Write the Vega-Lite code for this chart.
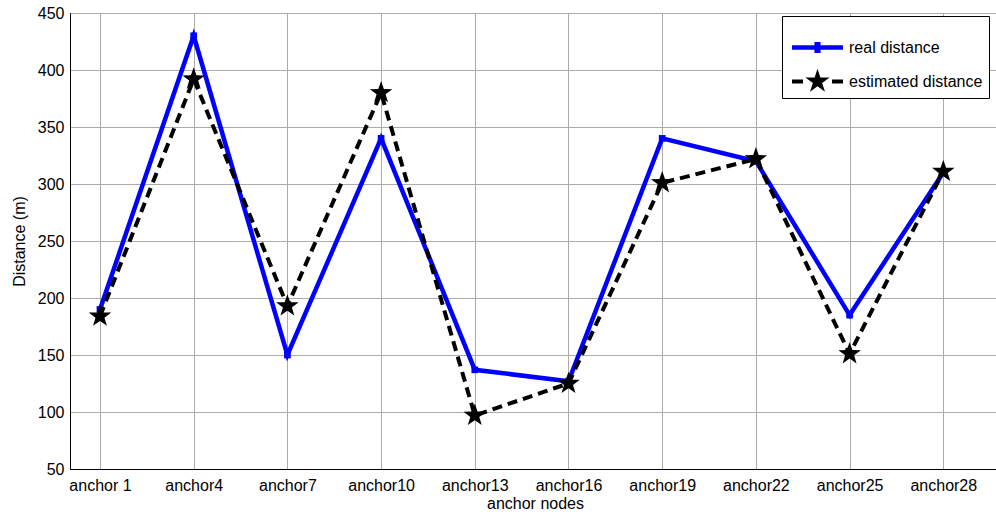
{
  "$schema": "https://vega.github.io/schema/vega-lite/v6.json",
  "width": 930,
  "height": 456,
  "autosize": {"type": "none"},
  "padding": {"left": 70, "top": 13, "right": 0, "bottom": 47},
  "background": "white",
  "config": {
    "view": {"stroke": "black", "strokeWidth": 1},
    "font": "Liberation Sans",
    "axis": {
      "domainColor": "black",
      "domainWidth": 1,
      "ticks": false,
      "gridColor": "#ababab",
      "gridOpacity": 1,
      "gridWidth": 1,
      "labelColor": "black",
      "labelFontSize": 16,
      "labelFont": "Liberation Sans",
      "titleFontSize": 16,
      "titleFont": "Liberation Sans",
      "titleFontWeight": "normal",
      "titleColor": "black"
    }
  },
  "data": {
    "values": [
      {"i": 1, "series": "real distance", "value": 190},
      {"i": 2, "series": "real distance", "value": 430},
      {"i": 3, "series": "real distance", "value": 150},
      {"i": 4, "series": "real distance", "value": 340},
      {"i": 5, "series": "real distance", "value": 137},
      {"i": 6, "series": "real distance", "value": 127},
      {"i": 7, "series": "real distance", "value": 340},
      {"i": 8, "series": "real distance", "value": 320},
      {"i": 9, "series": "real distance", "value": 185},
      {"i": 10, "series": "real distance", "value": 310},
      {"i": 1, "series": "estimated distance", "value": 184},
      {"i": 2, "series": "estimated distance", "value": 392},
      {"i": 3, "series": "estimated distance", "value": 193},
      {"i": 4, "series": "estimated distance", "value": 380},
      {"i": 5, "series": "estimated distance", "value": 97},
      {"i": 6, "series": "estimated distance", "value": 125},
      {"i": 7, "series": "estimated distance", "value": 301},
      {"i": 8, "series": "estimated distance", "value": 322},
      {"i": 9, "series": "estimated distance", "value": 151},
      {"i": 10, "series": "estimated distance", "value": 311}
    ]
  },
  "layer": [
    {
      "transform": [{"filter": "datum.series === 'real distance'"}],
      "mark": {"type": "line", "strokeWidth": 4.5},
      "encoding": {
        "x": {
          "field": "i",
          "type": "quantitative",
          "scale": {"domain": [0.68, 10.605], "nice": false, "zero": false},
          "axis": {
            "title": "anchor nodes",
            "values": [1, 2, 3, 4, 5, 6, 7, 8, 9, 10],
            "labelExpr": "['anchor 1','anchor4','anchor7','anchor10','anchor13','anchor16','anchor19','anchor22','anchor25','anchor28'][datum.value-1]",
            "labelFlush": false,
            "labelOverlap": false,
            "labelPadding": 8,
            "titlePadding": 2,
            "grid": true
          }
        },
        "y": {
          "field": "value",
          "type": "quantitative",
          "scale": {"domain": [50, 450], "nice": false, "zero": false},
          "axis": {
            "title": "Distance (m)",
            "values": [50, 100, 150, 200, 250, 300, 350, 400, 450],
            "labelPadding": 6,
            "titlePadding": 10,
            "grid": true
          }
        },
        "color": {
          "field": "series",
          "type": "nominal",
          "scale": {"domain": ["real distance", "estimated distance"], "range": ["#0000ff", "#000000"]},
          "legend": {
            "title": null,
            "orient": "none",
            "legendX": 712,
            "legendY": 3,
            "labelFontSize": 16,
            "labelFont": "Liberation Sans",
            "labelColor": "black",
            "labelOffset": 6,
            "fillColor": "white",
            "strokeColor": "black",
            "padding": 6,
            "cornerRadius": 0,
            "rowPadding": -11,
            "symbolSize": 2601,
            "symbolStrokeWidth": 0,
            "symbolOffset": 4,
            "encode": {
              "symbols": {
                "update": {
                  "shape": {"signal": "datum.value === 'real distance' ? 'M-1,-0.09H1V0.09H-1ZM-0.12,-0.22H0.12V0.22H-0.12Z' : 'M-1,-0.08H-0.57V0.08H-1ZM0.57,-0.08H1V0.08H0.57ZM0,-0.5L0.112,-0.154L0.476,-0.155L0.181,0.059L0.294,0.405L0,0.19L-0.294,0.405L-0.181,0.059L-0.476,-0.155L-0.112,-0.154Z'"},
                  "fill": {"signal": "datum.value === 'real distance' ? '#0000ff' : '#000000'"},
                  "stroke": {"value": null},
                  "strokeWidth": {"value": 0},
                  "opacity": {"value": 1}
                }
              }
            }
          }
        }
      }
    },
    {
      "transform": [{"filter": "datum.series === 'real distance'"}],
      "mark": {"type": "point", "shape": "square", "filled": true, "color": "#0000ff", "size": 45, "opacity": 1},
      "encoding": {
        "x": {"field": "i", "type": "quantitative"},
        "y": {"field": "value", "type": "quantitative"}
      }
    },
    {
      "transform": [{"filter": "datum.series === 'estimated distance'"}],
      "mark": {"type": "line", "strokeWidth": 4, "strokeDash": [10, 6], "color": "#000000"},
      "encoding": {
        "x": {"field": "i", "type": "quantitative"},
        "y": {"field": "value", "type": "quantitative"}
      }
    },
    {
      "transform": [{"filter": "datum.series === 'estimated distance'"}],
      "mark": {"type": "point", "shape": "M0,-1L0.235,-0.324L0.951,-0.309L0.38,0.124L0.588,0.809L0,0.4L-0.588,0.809L-0.38,0.124L-0.951,-0.309L-0.235,-0.324Z", "filled": true, "color": "#000000", "size": 560, "opacity": 1},
      "encoding": {
        "x": {"field": "i", "type": "quantitative"},
        "y": {"field": "value", "type": "quantitative"}
      }
    }
  ]
}
